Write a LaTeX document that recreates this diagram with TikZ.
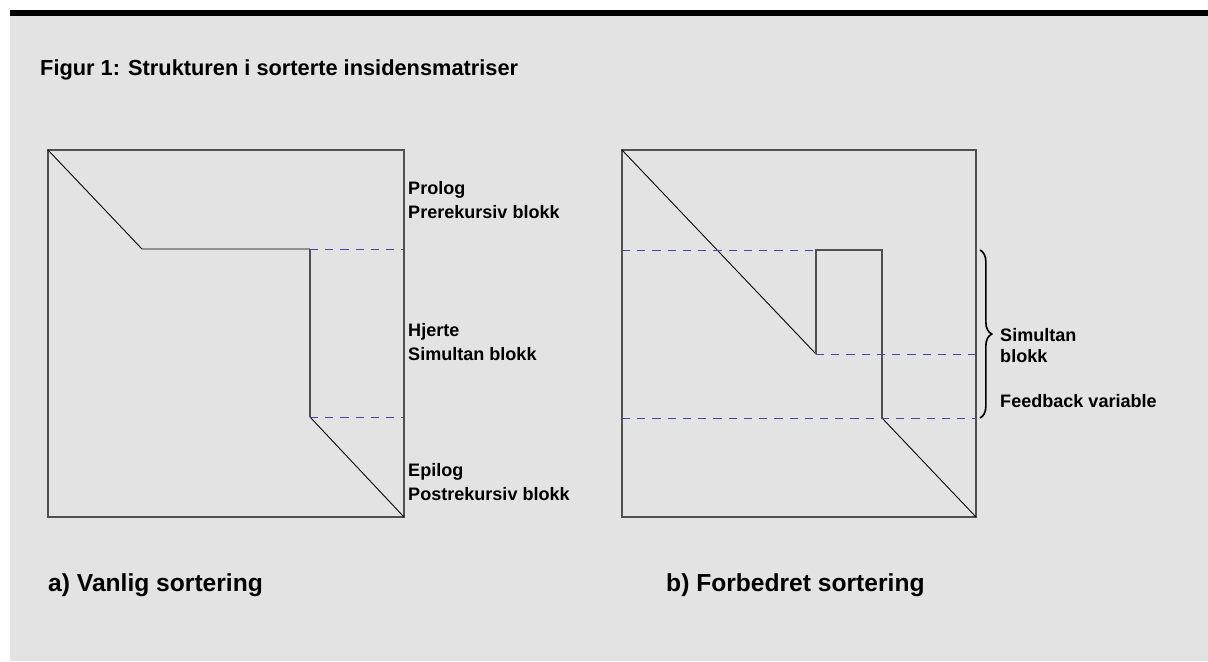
\documentclass[tikz,border=0pt]{standalone}
\usepackage{fontspec}
\setmainfont{Liberation Sans}
\usetikzlibrary{decorations.pathreplacing}
\definecolor{panel}{RGB}{227,227,227}
\definecolor{rim}{RGB}{80,80,80}
\definecolor{cutblue}{RGB}{70,70,170}

\begin{document}
\begin{tikzpicture}[x=0.03cm,y=-0.03cm,
    frame/.style={rim, line width=1pt},
    edge/.style={black, line width=0.75pt},
    cut/.style={cutblue, line width=0.8pt, dash pattern=on 7pt off 6pt},
    lbl/.style={anchor=base west, inner sep=0pt, font=\bfseries\fontsize{15.4pt}{18pt}\selectfont},
    caption/.style={lbl, font=\bfseries\fontsize{21pt}{24pt}\selectfont}]
        \useasboundingbox (0,0) rectangle (1208,661);
        \fill[panel] (10,16) rectangle (1208,661);
        \fill[black] (10,10) rectangle (1208,16);

        \node[lbl, font=\bfseries\fontsize{18.6pt}{22pt}\selectfont] (title) at (40,75) {Figur 1: Strukturen i sorterte insidensmatriser};

        % a) vanlig sortering
        \coordinate (aNW) at (48,150);
        \coordinate (aSE) at (404,517);
        \coordinate (aK) at (142,249);
        \coordinate (aH) at (310,249);
        \coordinate (aL) at (310,417);

        \draw[frame] (aNW) rectangle (aSE);
        \draw[edge] (aNW) -- (aK) -- (aH);
        \draw[frame] (aH) -- (aL);
        \draw[edge] (aL) -- (aSE);
        \draw[cut] (aH) -- (aH -| aSE);
        \draw[cut] (aL) -- (aL -| aSE);

        \foreach \y/\txt in {194/Prolog, 218/Prerekursiv blokk, 336/Hjerte, 360/Simultan blokk, 476/Epilog, 500/Postrekursiv blokk}{
          \node[lbl] (left\y) at (408,\y) {\txt};
        }
        \node[caption] (capA) at (48,591) {a) Vanlig sortering};

        % b) forbedret sortering
        \coordinate (bNW) at (622,150);
        \coordinate (bSE) at (976,517);
        \coordinate (bK) at (816,354);
        \coordinate (bT) at (816,250);
        \coordinate (bR) at (882,250);
        \coordinate (bL) at (882,418);

        \draw[frame] (bNW) rectangle (bSE);
        \draw[edge] (bNW) -- (bK);
        \draw[frame] (bK) -- (bT) -- (bR) -- (bL);
        \draw[edge] (bL) -- (bSE);
        \draw[cut] (bNW |- bT) -- (bT);
        \draw[cut] (bK) -- (bK -| bSE);
        \draw[cut] (bNW |- bL) -- (bL -| bSE);

        \coordinate (braceTop) at (980,250);
        \coordinate (braceBot) at (980,418);
        \draw[decorate, decoration={brace, amplitude=10pt}, line width=1.4pt] (braceTop) -- (braceBot);

        \foreach \y/\txt in {341/Simultan, 362/blokk, 407/Feedback variable}{
          \node[lbl] (right\y) at (1000,\y) {\txt};
        }
        \node[caption] (capB) at (666,591) {b) Forbedret sortering};
\end{tikzpicture}
\end{document}
